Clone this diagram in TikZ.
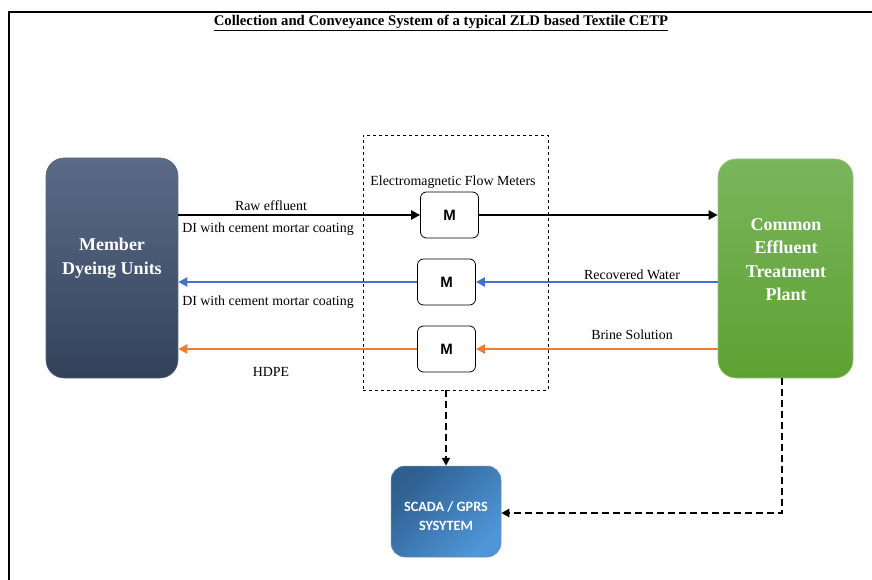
\documentclass[tikz,border=0pt]{standalone}
\usepackage{fontspec}
\setmainfont{Liberation Serif}
\newfontfamily\arialf{Liberation Sans}
\newfontfamily\calib{Carlito}
\usetikzlibrary{arrows.meta}
\definecolor{mdtop}{HTML}{5B6B87}
\definecolor{mdbot}{HTML}{33425A}
\definecolor{cetop}{HTML}{7AB55C}
\definecolor{cebot}{HTML}{5DA132}
\definecolor{sctl}{HTML}{2E5F8F}
\definecolor{scbr}{HTML}{4F96D8}
\definecolor{pipeblue}{HTML}{4472C4}
\definecolor{pipeorange}{HTML}{ED7D31}
\tikzset{
  bigbox/.style={rounded corners=18pt},
  bigtext/.style={text=white, align=center, inner sep=0pt, font=\bfseries\fontsize{18}{23.5}\selectfont},
  meter/.style={draw=black, line width=0.8pt, rounded corners=6pt, minimum width=58pt, minimum height=46pt, font=\arialf\bfseries\fontsize{15}{18}\selectfont},
  pipe/.style={line width=2.6pt, -{Triangle[length=9pt,width=9pt]}},
  ctrl/.style={line width=2.6pt, dash pattern=on 7pt off 4pt, -{Triangle[length=8pt,width=8pt]}},
  lbl/.style={font=\fontsize{13.9}{16}\selectfont, inner sep=0pt}
}
\begin{document}
\begin{tikzpicture}[x=1pt,y=-1pt]
\useasboundingbox (0,0) rectangle (872,580);
\draw[line width=2pt] (9,580) -- (9,12) -- (872,12);
\node[font=\bfseries\fontsize{14.7}{17}\selectfont, inner sep=0pt] (title) at (441,23) {\underline{Collection and Conveyance System of a typical ZLD based Textile CETP}};

\node[bigbox, minimum width=132pt, minimum height=220pt, top color=mdtop, bottom color=mdbot, draw=mdbot!80!white, line width=0.6pt] (member) at (112,268) {};
\node[bigtext] (membertext) at (112,258) {Member\\Dyeing Units};
\node[bigbox, minimum width=135pt, minimum height=219pt, top color=cetop, bottom color=cebot, draw=cetop!80!white, line width=0.6pt] (cetp) at (785.5,268.5) {};
\node[bigtext] (cetptext) at (786,259.5) {Common\\Effluent\\Treatment\\Plant};
\node[draw=black, dashed, line width=0.7pt, minimum width=185pt, minimum height=255pt] (meterbox) at (455.5,262.5) {};
\node[lbl] (emfm) at (453,182) {Electromagnetic Flow Meters};

\node[meter] (m1) at (449.5,215) {M};
\node[meter] (m2) at (446.5,282) {M};
\node[meter] (m3) at (446.5,349) {M};

\node[rounded corners=14pt, minimum width=110pt, minimum height=91pt, left color=sctl, right color=scbr, shading angle=45, draw=sctl!70!white, line width=0.5pt] (scada) at (446,511.5) {};
\node[text=white, align=center, inner sep=0pt, font=\calib\bfseries\fontsize{14.2}{19}\selectfont] (scadatext) at (446,516.5) {SCADA / GPRS\\SYSYTEM};

\draw[pipe] (member.east |- m1) -- (m1.west);
\draw[pipe] (m1.east) -- (cetp.west |- m1);
\draw[pipe, pipeblue] (cetp.west |- m2) -- (m2.east);
\draw[pipe, pipeblue] (m2.west) -- (member.east |- m2);
\draw[pipe, pipeorange] (cetp.west |- m3) -- (m3.east);
\draw[pipe, pipeorange] (m3.west) -- (member.east |- m3);

\node[lbl] (raw) at (271,206) {Raw effluent};
\node[lbl] (di1) at (268,229) {DI with cement mortar coating};
\node[lbl] (di2) at (268,302) {DI with cement mortar coating};
\node[lbl] (hdpe) at (271,372) {HDPE};
\node[lbl] (recw) at (632,275) {Recovered Water};
\node[lbl] (brine) at (632,335) {Brine Solution};

\draw[ctrl] (scada.north |- meterbox.south) -- (scada.north);
\coordinate (cc) at (782,513);
\draw[ctrl] (cc |- cetp.south) -- (cc) -- (scada.east |- cc);
\end{tikzpicture}
\end{document}
